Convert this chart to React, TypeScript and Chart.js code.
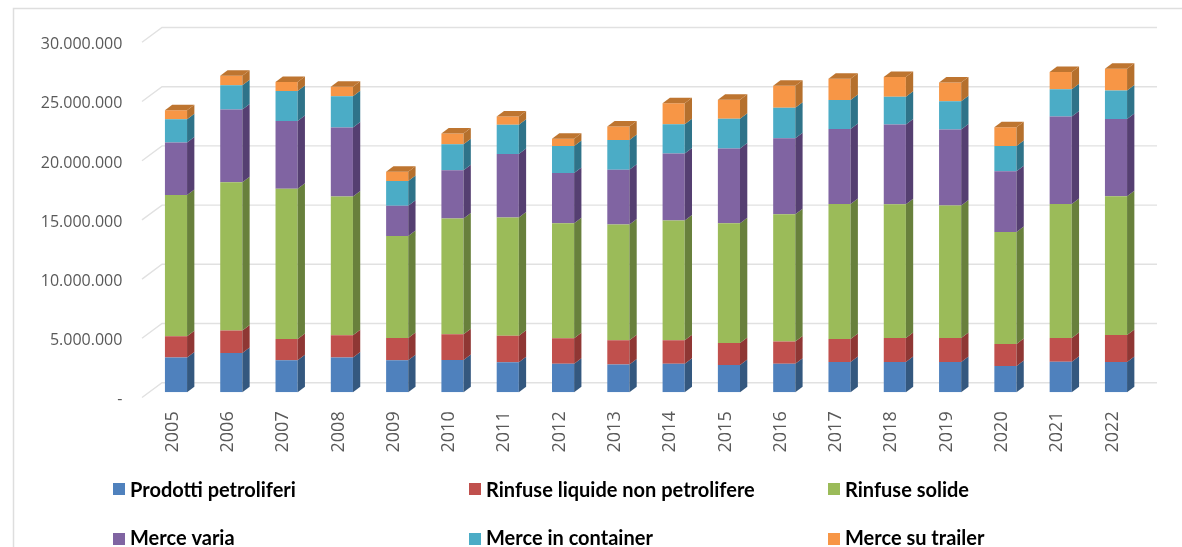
import React, { useEffect, useRef } from "react";
import { Chart, registerables } from "chart.js";

Chart.register(...registerables);

const years = ["2005","2006","2007","2008","2009","2010","2011","2012","2013","2014","2015","2016","2017","2018","2019","2020","2021","2022"];
const prodottiPetroliferi = [2930000,3320000,2700000,2930000,2700000,2730000,2530000,2420000,2340000,2420000,2310000,2420000,2560000,2560000,2560000,2220000,2590000,2560000];
const rinfuseLiquide = [1800000,1890000,1800000,1890000,1890000,2170000,2250000,2140000,2060000,1970000,1860000,1860000,1940000,2030000,2030000,1860000,2000000,2280000];
const rinfuseSolide = [11940000,12530000,12700000,11710000,8610000,9770000,9990000,9710000,9770000,10110000,10110000,10750000,11400000,11290000,11180000,9460000,11320000,11710000];
const merceVaria = [4420000,6140000,5720000,5830000,2560000,4080000,5350000,4250000,4620000,5660000,6310000,6420000,6330000,6730000,6420000,5120000,7380000,6530000];
const merceContainer = [1970000,2060000,2530000,2650000,2080000,2200000,2480000,2280000,2510000,2480000,2510000,2590000,2450000,2360000,2390000,2140000,2310000,2420000];
const merceTrailer = [760000,790000,760000,790000,790000,900000,700000,620000,1150000,1770000,1600000,1860000,1800000,1660000,1580000,1580000,1460000,1830000];

const labels = ["Prodotti petroliferi","Rinfuse liquide non petrolifere","Rinfuse solide","Merce varia","Merce in container","Merce su trailer"];
const seriesValues = [prodottiPetroliferi, rinfuseLiquide, rinfuseSolide, merceVaria, merceContainer, merceTrailer];
const frontColors = ["#4F81BD","#C0504D","#9BBB59","#8064A2","#4BACC6","#F79646"];
const sideColors = ["#34587F","#8F3734","#68803C","#553F71","#2F7389","#B5702D"];
const topColor = "#BE7530";

const DEPTH_X = 7.3;
const DEPTH_Y = 5.5;
const GRID = "#E1E1E1";

const legendX = [113, 469, 828];
const legendY = [483, 533];
const legendBaseline = [496.5, 545.3];

const threeD = {
  id: "threeD",
  beforeDatasetsDraw(chart: any) {
    const { ctx, scales } = chart;
    const y = scales.y;
    ctx.save();
    // frame
    ctx.strokeStyle = "#DEDEDE";
    ctx.lineWidth = 1.5;
    ctx.beginPath();
    ctx.moveTo(13.5, 547);
    ctx.lineTo(13.5, 8.5);
    ctx.lineTo(1182, 8.5);
    ctx.stroke();
    // back wall gridlines
    ctx.strokeStyle = GRID;
    ctx.lineWidth = 1.4;
    for (const t of y.ticks) {
      const p = y.getPixelForValue(t.value);
      ctx.beginPath();
      ctx.moveTo(142, p + 5.2);
      ctx.lineTo(162, p - 9.6);
      ctx.lineTo(1157, p - 9.6);
      ctx.stroke();
    }
    ctx.restore();
  },
  afterDatasetsDraw(chart: any) {
    const { ctx } = chart;
    ctx.save();
    chart.data.datasets.forEach((_: any, di: number) => {
      const meta = chart.getDatasetMeta(di);
      meta.data.forEach((bar: any) => {
        const { x, y, base, width } = bar.getProps(["x", "y", "base", "width"], true);
        const r = x + width / 2;
        const l = x - width / 2;
        ctx.fillStyle = sideColors[di];
        ctx.beginPath();
        ctx.moveTo(r, y);
        ctx.lineTo(r + DEPTH_X, y - DEPTH_Y);
        ctx.lineTo(r + DEPTH_X, base - DEPTH_Y);
        ctx.lineTo(r, base);
        ctx.closePath();
        ctx.fill();
        if (di === chart.data.datasets.length - 1) {
          ctx.fillStyle = topColor;
          ctx.beginPath();
          ctx.moveTo(l, y);
          ctx.lineTo(l + DEPTH_X, y - DEPTH_Y);
          ctx.lineTo(r + DEPTH_X, y - DEPTH_Y);
          ctx.lineTo(r, y);
          ctx.closePath();
          ctx.fill();
        }
      });
    });
    // legend
    ctx.textBaseline = "alphabetic";
    ctx.textAlign = "left";
    ctx.font = "bold 20px Lato";
    chart.data.datasets.forEach((ds: any, i: number) => {
      const row = Math.floor(i / 3);
      const lx = legendX[i % 3];
      ctx.fillStyle = ds.backgroundColor;
      ctx.fillRect(lx, legendY[row], 12, 12);
      ctx.fillStyle = "#000000";
      ctx.fillText(ds.label, lx + 17, legendBaseline[row]);
    });
    ctx.restore();
  },
};

function formatTick(v: number) {
  if (v === 0) return "-";
  return String(v).replace(/\B(?=(\d{3})+(?!\d))/g, ".");
}

export default function App() {
  const ref = useRef<HTMLCanvasElement>(null);
  useEffect(() => {
    const chart = new Chart(ref.current!, {
      type: "bar",
      data: {
        labels: years,
        datasets: seriesValues.map((data, i) => ({
          label: labels[i],
          data,
          backgroundColor: frontColors[i],
          borderWidth: 0,
          barPercentage: 0.4,
          categoryPercentage: 1,
        })),
      },
      plugins: [threeD],
      options: {
        responsive: false,
        animation: false,
        layout: { padding: { top: 37.1, right: 38.35, bottom: 0, left: 0 } },
        plugins: { legend: { display: false }, tooltip: { enabled: false }, title: { display: false } },
        scales: {
          x: {
            stacked: true,
            afterFit(s: any) { s.height = 154.7; },
            grid: { display: false, drawTicks: false },
            border: { display: false },
            ticks: {
              autoSkip: false,
              minRotation: 90,
              maxRotation: 90,
              padding: 19,
              labelOffset: -3.5,
              color: "#595959",
              font: { family: "Open Sans", size: 18 },
            },
          },
          y: {
            stacked: true,
            min: 0,
            max: 30000000,
            afterFit(s: any) { s.width = 148.35; },
            grid: { display: false, drawTicks: false },
            border: { display: false },
            ticks: {
              stepSize: 5000000,
              padding: 26,
              labelOffset: 7.5,
              color: "#595959",
              font: { family: "Open Sans", size: 16 },
              callback: (v: any) => formatTick(Number(v)),
            },
          },
        },
      },
    } as any);
    return () => chart.destroy();
  }, []);
  return (
    <canvas
      ref={ref}
      width={1182}
      height={547}
      style={{ position: "absolute", left: 0, top: 0, display: "block", background: "#fff", filter: "blur(0.35px)" }}
    />
  );
}
